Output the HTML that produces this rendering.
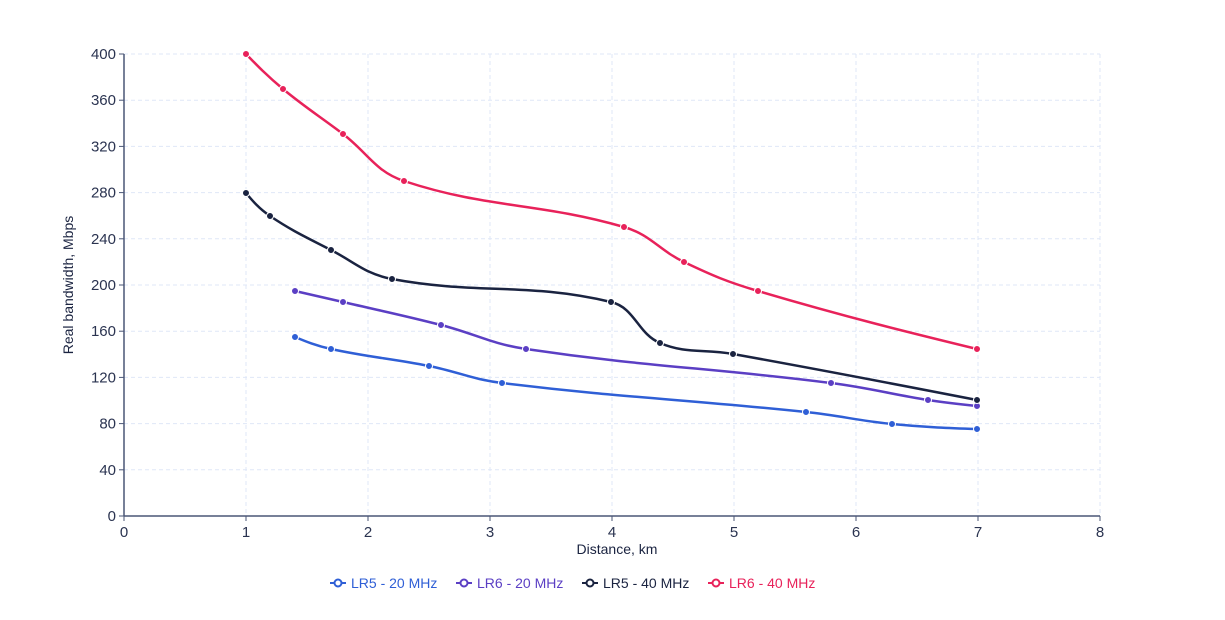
<!DOCTYPE html>
<html><head><meta charset="utf-8"><style>
body{margin:0;background:#fff;}
svg{display:block;font-family:"Liberation Sans",sans-serif;}
</style></head><body>
<svg id="s" width="1225" height="620" viewBox="0 0 1225 620">
<g id="grid" stroke="#dfe7f7" stroke-width="1" stroke-dasharray="4,3"></g>
<g id="axes" fill="#2a3350" font-size="15"></g>
<g id="series"></g>
<text x="617" y="554" text-anchor="middle" font-size="14" fill="#1a2340">Distance, km</text>
<text transform="translate(73,285) rotate(-90)" text-anchor="middle" font-size="14" fill="#1a2340">Real bandwidth, Mbps</text>
<g font-size="14">
<line x1="330" y1="583" x2="346" y2="583" stroke="#2f5fd6" stroke-width="2"/><circle cx="338" cy="583" r="3.5" fill="#fff" stroke="#2f5fd6" stroke-width="2"/>
<text x="351" y="588" fill="#2f5fd6">LR5 - 20 MHz</text>
<line x1="456" y1="583" x2="472" y2="583" stroke="#5b3fc4" stroke-width="2"/><circle cx="464" cy="583" r="3.5" fill="#fff" stroke="#5b3fc4" stroke-width="2"/>
<text x="477" y="588" fill="#5b3fc4">LR6 - 20 MHz</text>
<line x1="582" y1="583" x2="598" y2="583" stroke="#1a2340" stroke-width="2"/><circle cx="590" cy="583" r="3.5" fill="#fff" stroke="#1a2340" stroke-width="2"/>
<text x="603" y="588" fill="#1a2340">LR5 - 40 MHz</text>
<line x1="708" y1="583" x2="724" y2="583" stroke="#e8225a" stroke-width="2"/><circle cx="716" cy="583" r="3.5" fill="#fff" stroke="#e8225a" stroke-width="2"/>
<text x="729" y="588" fill="#e8225a">LR6 - 40 MHz</text>
</g>
</svg>
<script>
var NS="http://www.w3.org/2000/svg";
function el(p,t,a,txt){var e=document.createElementNS(NS,t);for(var k in a)e.setAttribute(k,a[k]);if(txt!=null)e.textContent=txt;p.appendChild(e);return e;}
var X=function(v){return 124+v*122;},Y=function(v){return 516-v*1.155;};
var g=document.getElementById('grid'),ax=document.getElementById('axes');
for(var i=1;i<=8;i++)el(g,'line',{x1:X(i),y1:54,x2:X(i),y2:516});
for(var j=1;j<=10;j++)el(g,'line',{x1:124,y1:Y(j*40),x2:1100,y2:Y(j*40)});
el(ax,'line',{x1:124,y1:54,x2:124,y2:516,stroke:'#4a5676','stroke-width':1.5});
el(ax,'line',{x1:124,y1:516,x2:1100,y2:516,stroke:'#4a5676','stroke-width':1.5});
for(var i=0;i<=8;i++){el(ax,'line',{x1:X(i),y1:516,x2:X(i),y2:521,stroke:'#4a5676'});el(ax,'text',{x:X(i),y:537,'text-anchor':'middle'},i);}
for(var j=0;j<=10;j++){el(ax,'line',{x1:119,y1:Y(j*40),x2:124,y2:Y(j*40),stroke:'#4a5676'});el(ax,'text',{x:116,y:Y(j*40)+5,'text-anchor':'end'},j*40);}
var S=[
['#2f5fd6',[[295,337],[331,349],[429,366],[502,383],[806,412],[892,424],[977,429]]],
['#5b3fc4',[[295,291],[343,302],[441,325],[526,349],[831,383],[928,400],[977,406]]],
['#1a2340',[[246,193],[270,216],[331,250],[392,279],[611,302],[660,343],[733,354],[977,400]]],
['#e8225a',[[246,54],[283,89],[343,134],[404,181],[624,227],[684,262],[758,291],[977,349]]]];
function dist(a,b){return Math.hypot(a[0]-b[0],a[1]-b[1]);}
var sg=document.getElementById('series');
S.forEach(function(s){var p=s[1],n=p.length,k=0.4,L=[],R=[];
for(var i=0;i<n;i++){
 if(i==0||i==n-1){L[i]=p[i];R[i]=p[i];continue;}
 var d1=dist(p[i-1],p[i]),d2=dist(p[i],p[i+1]),T=[p[i+1][0]-p[i-1][0],p[i+1][1]-p[i-1][1]];
 L[i]=[p[i][0]-T[0]*k*d1/(d1+d2),p[i][1]-T[1]*k*d1/(d1+d2)];
 R[i]=[p[i][0]+T[0]*k*d2/(d1+d2),p[i][1]+T[1]*k*d2/(d1+d2)];}
var d='M'+p[0];
for(var i=0;i<n-1;i++){
 var c1=R[i],c2=L[i+1];
 if(i==0)c1=[p[0][0]+(c2[0]-p[0][0])/2,p[0][1]+(c2[1]-p[0][1])/2];
 if(i==n-2)c2=[p[n-1][0]+(c1[0]-p[n-1][0])/2,p[n-1][1]+(c1[1]-p[n-1][1])/2];
 d+=' C'+c1+' '+c2+' '+p[i+1];}
el(sg,'path',{d:d,fill:'none',stroke:s[0],'stroke-width':2.5});
p.forEach(function(q){el(sg,'circle',{cx:q[0],cy:q[1],r:3.5,fill:s[0],stroke:'#fff','stroke-width':1});});});
</script>
</body></html>
